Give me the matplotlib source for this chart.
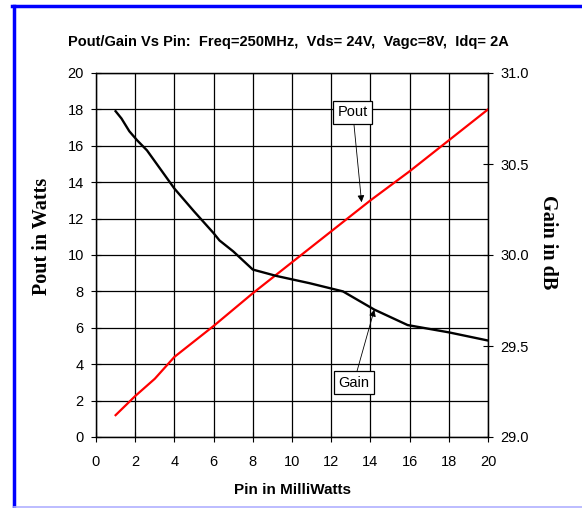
import matplotlib
matplotlib.use('Agg')
import matplotlib.pyplot as plt
from matplotlib.lines import Line2D

# Pout (W) vs Pin (mW)
pin_pout = [1, 2, 3, 4, 6, 8, 10, 12, 14, 16, 18, 20]
pout = [1.2, 2.25, 3.2, 4.4, 6.1, 7.9, 9.6, 11.3, 13.0, 14.6, 16.3, 18.0]

# Gain (dB) vs Pin (mW)
pin_gain = [1, 1.3, 1.7, 2.1, 2.6, 4, 5, 6, 6.3, 7, 8, 9.2, 10.9, 12.6, 14.2, 15.9, 18, 20]
gain = [30.79, 30.75, 30.68, 30.63, 30.575, 30.365, 30.24, 30.12, 30.08, 30.02,
        29.92, 29.885, 29.845, 29.80, 29.70, 29.615, 29.575, 29.53]

xticks = list(range(0, 21, 2))
yticks_left = list(range(0, 21, 2))
yticks_right = [29.0, 29.5, 30.0, 30.5, 31.0]

sans = ['Liberation Sans', 'DejaVu Sans']
serif = ['Liberation Serif', 'DejaVu Serif']

fig = plt.figure(figsize=(5.82, 5.08), dpi=100)
ax = fig.add_axes([96/582, 1-437/508, 392/582, 364/508])
ax2 = ax.twinx()

ax.plot(pin_pout, pout, color='#ff0000', lw=1.6, zorder=3)
ax2.plot(pin_gain, gain, color='black', lw=1.7, zorder=3)

ax.set_xlim(0, 20)
ax.set_ylim(0, 20)
ax2.set_ylim(29, 31)
ax.set_xticks(xticks)
ax.set_yticks(yticks_left)
ax2.set_yticks(yticks_right)
ax2.set_yticklabels(['%.1f' % v for v in yticks_right])
ax.grid(True, color='black', lw=0.9)
ax.set_axisbelow(True)

for a in (ax, ax2):
    a.tick_params(direction='inout', length=7.5, width=0.8, color='black',
                  labelsize=10.5, pad=5)
    for s in a.spines.values():
        s.set_linewidth(0.9)
    for lab in a.get_xticklabels() + a.get_yticklabels():
        lab.set_family(sans)
ax.tick_params(axis='x', pad=9)

ax.set_xlabel('Pin in MilliWatts', family=sans, fontsize=11,
              fontweight='bold', va='center')
ax.xaxis.set_label_coords(0.5, -0.145)
ax.set_ylabel('Pout in Watts', family=serif, fontsize=14.5, fontweight='bold',
              va='center')
ax.yaxis.set_label_coords(-0.138, 0.552)
ax2.set_ylabel('Gain in dB', family=serif, fontsize=14.5,
               fontweight='bold', rotation=270, va='center')
ax2.yaxis.set_label_coords(1.153, 0.536)

fig.text(0.495, 1-42/508, 'Pout/Gain Vs Pin:  Freq=250MHz,  Vds= 24V,  Vagc=8V,  Idq= 2A',
         ha='center', va='center', family=sans, fontsize=10.5, fontweight='bold')

box = dict(boxstyle='square,pad=0.3', fc='white', ec='black', lw=0.9)
arrow = dict(arrowstyle='-|>', color='black', lw=0.6, mutation_scale=10, shrinkA=0, shrinkB=0)
ax.annotate('Pout', xy=(13.55, 12.9), xytext=(13.1, 17.85), ha='center', va='center',
            family=sans, fontsize=10.5, bbox=box, arrowprops=arrow, zorder=5)
ax2.annotate('Gain', xy=(14.2, 29.70), xytext=(13.15, 29.298), ha='center', va='center',
             family=sans, fontsize=10.5, bbox=box, arrowprops=arrow, zorder=5)

# blue frame around the picture
fig.add_artist(Line2D([13.5/582, 13.5/582], [0, 1-5.5/508], color='#0000ff', lw=2.5,
                      transform=fig.transFigure))
fig.add_artist(Line2D([12/582, 1], [1-5.5/508, 1-5.5/508], color='#0000ff', lw=2.5,
                      transform=fig.transFigure))
fig.add_artist(Line2D([13.5/582, 1], [1.5/508, 1.5/508], color='#b0b0ff', lw=1.2,
                      transform=fig.transFigure))

fig.savefig('out.png', dpi=100)
